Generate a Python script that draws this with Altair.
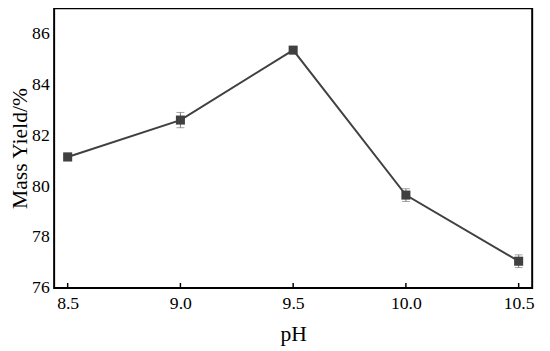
import altair as alt
import pandas as pd

ph = [8.5, 9.0, 9.5, 10.0, 10.5]
mass_yield = [81.15, 82.6, 85.35, 79.65, 77.05]
err = [0.15, 0.3, 0.1, 0.25, 0.25]
x_ticks = [8.5, 9.0, 9.5, 10.0, 10.5]
y_ticks = [76, 78, 80, 82, 84, 86]

df = pd.DataFrame({"pH": ph, "y": mass_yield, "err": err})
df["lo"] = df["y"] - df["err"]
df["hi"] = df["y"] + df["err"]
tick_df = pd.DataFrame({"t": x_ticks})

FONT = "Liberation Serif"
xscale = alt.Scale(domain=[8.44, 10.56], nice=False, zero=False)
yscale = alt.Scale(domain=[76, 87], nice=False, zero=False)

xaxis = alt.Axis(values=x_ticks, format=".1f", labelPadding=7, title="pH", titlePadding=12)
yaxis = alt.Axis(values=y_ticks, labelPadding=5, title="Mass Yield/%", titlePadding=0)

base = alt.Chart(df)

line = base.mark_line(color="#404040", strokeWidth=2).encode(
    x=alt.X("pH:Q", scale=xscale, axis=xaxis),
    y=alt.Y("y:Q", scale=yscale, axis=yaxis))
rules = base.mark_rule(color="#777777", strokeWidth=1).encode(
    x=alt.X("pH:Q", scale=xscale, axis=xaxis), y=alt.Y("lo:Q", scale=yscale, axis=yaxis), y2="hi:Q")
cap_lo = base.mark_tick(color="#777777", thickness=1, size=8, orient="horizontal").encode(
    x=alt.X("pH:Q", scale=xscale, axis=xaxis), y=alt.Y("lo:Q", scale=yscale, axis=yaxis))
cap_hi = base.mark_tick(color="#777777", thickness=1, size=8, orient="horizontal").encode(
    x=alt.X("pH:Q", scale=xscale, axis=xaxis), y=alt.Y("hi:Q", scale=yscale, axis=yaxis))
pts = base.mark_point(shape="square", filled=True, size=85, color="#404040", opacity=1).encode(
    x=alt.X("pH:Q", scale=xscale, axis=xaxis), y=alt.Y("y:Q", scale=yscale, axis=yaxis))
xt = alt.Chart(tick_df).mark_rule(color="black", strokeWidth=1.5).encode(
    x=alt.X("t:Q", scale=xscale, axis=xaxis), y=alt.value(280), y2=alt.value(285))

chart = alt.layer(xt, line, rules, cap_lo, cap_hi, pts).properties(
    width=487, height=285,
    background="white",
    autosize=alt.AutoSizeParams(type="none"),
    padding={"left": 47, "top": -3, "right": 10, "bottom": 56},
).configure_view(
    stroke="black", strokeWidth=2
).configure_axis(
    ticks=False, tickSize=0, domain=False, grid=False,
    labelFont=FONT, labelFontSize=18, labelColor="black",
    titleFont=FONT, titleFontSize=22, titleFontWeight="normal", titleColor="black",
)

chart.save("out.html", embed_options={"renderer": "svg", "actions": False})
